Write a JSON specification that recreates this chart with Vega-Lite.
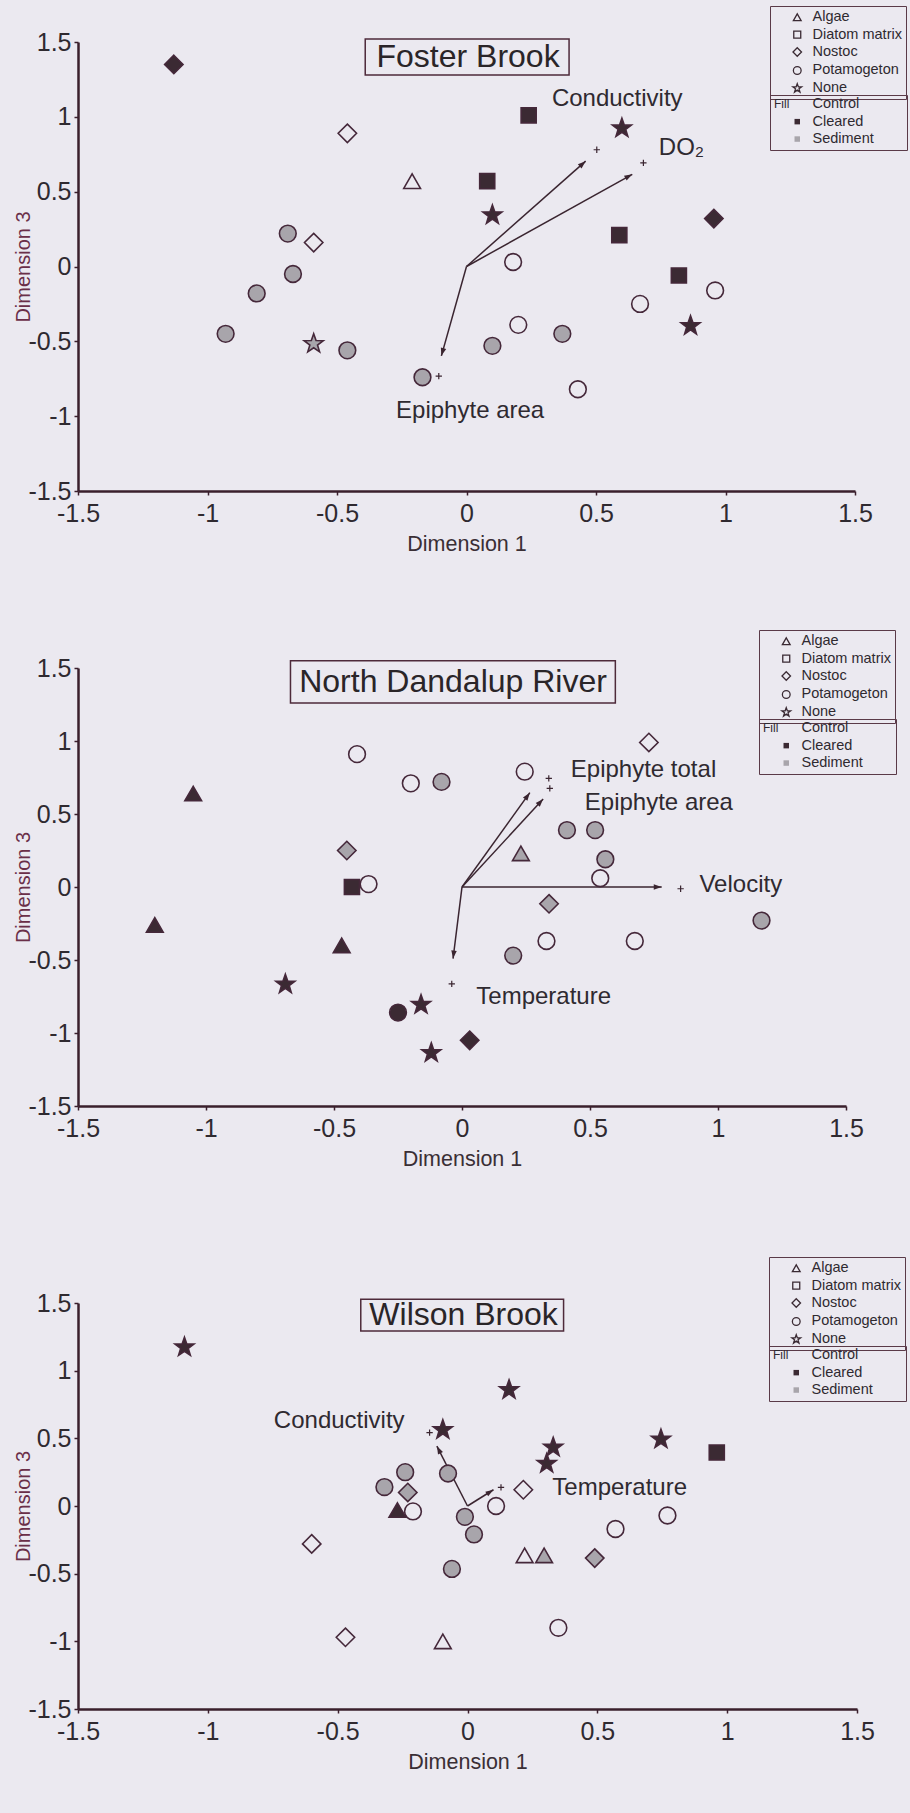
{
  "$schema": "https://vega.github.io/schema/vega-lite/v6.json",
  "background": "#ebe9f0",
  "padding": {"left": 13, "top": 5, "right": 12, "bottom": 45},
  "spacing": 177,
  "bounds": "flush",
  "config": {
    "view": {"stroke": null},
    "font": "Liberation Sans",
    "axis": {"domainColor": "#3a1f2c", "domainWidth": 2.5, "tickColor": "#3a1f2c", "tickWidth": 1.5, "tickSize": 4, "labelFont": "Liberation Sans", "labelFontSize": 25, "labelColor": "#2f2a30", "titleFont": "Liberation Sans", "titleFontWeight": "normal", "grid": false, "labelFlush": false, "labelOverlap": false, "labelExpr": "datum.value == 0 ? '0' : (datum.value < 0 ? '-' : '') + abs(datum.value)"},
    "axisX": {"labelPadding": 6, "titlePadding": 7, "titleFontSize": 21.5, "titleColor": "#3a2f35"},
    "axisY": {"labelPadding": 3, "titleFontSize": 20, "titleColor": "#6a2f48", "titleX": -45},
    "legend": {"labelFont": "Liberation Sans", "labelFontSize": 14.5, "labelColor": "#2f2a30", "titleFont": "Liberation Sans", "titleFontWeight": "normal", "titleFontSize": 12, "titleColor": "#2f2a30", "strokeColor": "#5a3a48", "padding": 4, "rowPadding": 2.4, "symbolSize": 60, "symbolOffset": 16, "labelOffset": 8}
  },
  "datasets": {
    "pts": [
      {"site": "Foster Brook", "x": -1.13, "y": 1.35, "substrate": "Nostoc", "treatment": "Cleared"},
      {"site": "Foster Brook", "x": -0.46, "y": 0.89, "substrate": "Nostoc", "treatment": "Control"},
      {"site": "Foster Brook", "x": -0.21, "y": 0.57, "substrate": "Algae", "treatment": "Control"},
      {"site": "Foster Brook", "x": -0.69, "y": 0.22, "substrate": "Potamogeton", "treatment": "Sediment"},
      {"site": "Foster Brook", "x": -0.59, "y": 0.16, "substrate": "Nostoc", "treatment": "Control"},
      {"site": "Foster Brook", "x": -0.67, "y": -0.05, "substrate": "Potamogeton", "treatment": "Sediment"},
      {"site": "Foster Brook", "x": -0.81, "y": -0.18, "substrate": "Potamogeton", "treatment": "Sediment"},
      {"site": "Foster Brook", "x": -0.93, "y": -0.45, "substrate": "Potamogeton", "treatment": "Sediment"},
      {"site": "Foster Brook", "x": -0.59, "y": -0.51, "substrate": "None", "treatment": "Sediment"},
      {"site": "Foster Brook", "x": -0.46, "y": -0.56, "substrate": "Potamogeton", "treatment": "Sediment"},
      {"site": "Foster Brook", "x": -0.17, "y": -0.74, "substrate": "Potamogeton", "treatment": "Sediment"},
      {"site": "Foster Brook", "x": 0.24, "y": 1.01, "substrate": "Diatom matrix", "treatment": "Cleared"},
      {"site": "Foster Brook", "x": 0.6, "y": 0.93, "substrate": "None", "treatment": "Cleared"},
      {"site": "Foster Brook", "x": 0.08, "y": 0.57, "substrate": "Diatom matrix", "treatment": "Cleared"},
      {"site": "Foster Brook", "x": 0.1, "y": 0.35, "substrate": "None", "treatment": "Cleared"},
      {"site": "Foster Brook", "x": 0.59, "y": 0.21, "substrate": "Diatom matrix", "treatment": "Cleared"},
      {"site": "Foster Brook", "x": 0.955, "y": 0.32, "substrate": "Nostoc", "treatment": "Cleared"},
      {"site": "Foster Brook", "x": 0.18, "y": 0.03, "substrate": "Potamogeton", "treatment": "Control"},
      {"site": "Foster Brook", "x": 0.82, "y": -0.06, "substrate": "Diatom matrix", "treatment": "Cleared"},
      {"site": "Foster Brook", "x": 0.96, "y": -0.16, "substrate": "Potamogeton", "treatment": "Control"},
      {"site": "Foster Brook", "x": 0.67, "y": -0.25, "substrate": "Potamogeton", "treatment": "Control"},
      {"site": "Foster Brook", "x": 0.2, "y": -0.39, "substrate": "Potamogeton", "treatment": "Control"},
      {"site": "Foster Brook", "x": 0.37, "y": -0.45, "substrate": "Potamogeton", "treatment": "Sediment"},
      {"site": "Foster Brook", "x": 0.1, "y": -0.53, "substrate": "Potamogeton", "treatment": "Sediment"},
      {"site": "Foster Brook", "x": 0.865, "y": -0.39, "substrate": "None", "treatment": "Cleared"},
      {"site": "Foster Brook", "x": 0.43, "y": -0.82, "substrate": "Potamogeton", "treatment": "Control"},

      {"site": "North Dandalup River", "x": -0.41, "y": 0.91, "substrate": "Potamogeton", "treatment": "Control"},
      {"site": "North Dandalup River", "x": -0.2, "y": 0.71, "substrate": "Potamogeton", "treatment": "Control"},
      {"site": "North Dandalup River", "x": -0.08, "y": 0.72, "substrate": "Potamogeton", "treatment": "Sediment"},
      {"site": "North Dandalup River", "x": -1.05, "y": 0.64, "substrate": "Algae", "treatment": "Cleared"},
      {"site": "North Dandalup River", "x": -0.45, "y": 0.25, "substrate": "Nostoc", "treatment": "Sediment"},
      {"site": "North Dandalup River", "x": -0.43, "y": 0.0, "substrate": "Diatom matrix", "treatment": "Cleared"},
      {"site": "North Dandalup River", "x": -0.365, "y": 0.02, "substrate": "Potamogeton", "treatment": "Control"},
      {"site": "North Dandalup River", "x": -1.2, "y": -0.26, "substrate": "Algae", "treatment": "Cleared"},
      {"site": "North Dandalup River", "x": -0.47, "y": -0.4, "substrate": "Algae", "treatment": "Cleared"},
      {"site": "North Dandalup River", "x": -0.69, "y": -0.66, "substrate": "None", "treatment": "Cleared"},
      {"site": "North Dandalup River", "x": -0.25, "y": -0.86, "substrate": "Potamogeton", "treatment": "Cleared"},
      {"site": "North Dandalup River", "x": -0.16, "y": -0.8, "substrate": "None", "treatment": "Cleared"},
      {"site": "North Dandalup River", "x": -0.12, "y": -1.13, "substrate": "None", "treatment": "Cleared"},
      {"site": "North Dandalup River", "x": 0.73, "y": 0.99, "substrate": "Nostoc", "treatment": "Control"},
      {"site": "North Dandalup River", "x": 0.245, "y": 0.79, "substrate": "Potamogeton", "treatment": "Control"},
      {"site": "North Dandalup River", "x": 0.41, "y": 0.39, "substrate": "Potamogeton", "treatment": "Sediment"},
      {"site": "North Dandalup River", "x": 0.52, "y": 0.39, "substrate": "Potamogeton", "treatment": "Sediment"},
      {"site": "North Dandalup River", "x": 0.23, "y": 0.23, "substrate": "Algae", "treatment": "Sediment"},
      {"site": "North Dandalup River", "x": 0.56, "y": 0.19, "substrate": "Potamogeton", "treatment": "Sediment"},
      {"site": "North Dandalup River", "x": 0.54, "y": 0.06, "substrate": "Potamogeton", "treatment": "Control"},
      {"site": "North Dandalup River", "x": 0.34, "y": -0.115, "substrate": "Nostoc", "treatment": "Sediment"},
      {"site": "North Dandalup River", "x": 1.17, "y": -0.23, "substrate": "Potamogeton", "treatment": "Sediment"},
      {"site": "North Dandalup River", "x": 0.33, "y": -0.37, "substrate": "Potamogeton", "treatment": "Control"},
      {"site": "North Dandalup River", "x": 0.675, "y": -0.37, "substrate": "Potamogeton", "treatment": "Control"},
      {"site": "North Dandalup River", "x": 0.2, "y": -0.47, "substrate": "Potamogeton", "treatment": "Sediment"},
      {"site": "North Dandalup River", "x": 0.03, "y": -1.05, "substrate": "Nostoc", "treatment": "Cleared"},

      {"site": "Wilson Brook", "x": -1.09, "y": 1.18, "substrate": "None", "treatment": "Cleared"},
      {"site": "Wilson Brook", "x": -0.095, "y": 0.57, "substrate": "None", "treatment": "Cleared"},
      {"site": "Wilson Brook", "x": -0.24, "y": 0.25, "substrate": "Potamogeton", "treatment": "Sediment"},
      {"site": "Wilson Brook", "x": -0.32, "y": 0.14, "substrate": "Potamogeton", "treatment": "Sediment"},
      {"site": "Wilson Brook", "x": -0.23, "y": 0.1, "substrate": "Nostoc", "treatment": "Sediment"},
      {"site": "Wilson Brook", "x": -0.075, "y": 0.24, "substrate": "Potamogeton", "treatment": "Sediment"},
      {"site": "Wilson Brook", "x": -0.27, "y": -0.03, "substrate": "Algae", "treatment": "Cleared"},
      {"site": "Wilson Brook", "x": -0.21, "y": -0.04, "substrate": "Potamogeton", "treatment": "Control"},
      {"site": "Wilson Brook", "x": -0.01, "y": -0.08, "substrate": "Potamogeton", "treatment": "Sediment"},
      {"site": "Wilson Brook", "x": -0.6, "y": -0.28, "substrate": "Nostoc", "treatment": "Control"},
      {"site": "Wilson Brook", "x": -0.06, "y": -0.465, "substrate": "Potamogeton", "treatment": "Sediment"},
      {"site": "Wilson Brook", "x": -0.47, "y": -0.97, "substrate": "Nostoc", "treatment": "Control"},
      {"site": "Wilson Brook", "x": -0.095, "y": -1.0, "substrate": "Algae", "treatment": "Control"},
      {"site": "Wilson Brook", "x": 0.16, "y": 0.865, "substrate": "None", "treatment": "Cleared"},
      {"site": "Wilson Brook", "x": 0.745, "y": 0.5, "substrate": "None", "treatment": "Cleared"},
      {"site": "Wilson Brook", "x": 0.33, "y": 0.44, "substrate": "None", "treatment": "Cleared"},
      {"site": "Wilson Brook", "x": 0.305, "y": 0.32, "substrate": "None", "treatment": "Cleared"},
      {"site": "Wilson Brook", "x": 0.96, "y": 0.395, "substrate": "Diatom matrix", "treatment": "Cleared"},
      {"site": "Wilson Brook", "x": 0.215, "y": 0.12, "substrate": "Nostoc", "treatment": "Control"},
      {"site": "Wilson Brook", "x": 0.11, "y": 0.0, "substrate": "Potamogeton", "treatment": "Control"},
      {"site": "Wilson Brook", "x": 0.025, "y": -0.21, "substrate": "Potamogeton", "treatment": "Sediment"},
      {"site": "Wilson Brook", "x": 0.77, "y": -0.07, "substrate": "Potamogeton", "treatment": "Control"},
      {"site": "Wilson Brook", "x": 0.57, "y": -0.17, "substrate": "Potamogeton", "treatment": "Control"},
      {"site": "Wilson Brook", "x": 0.22, "y": -0.365, "substrate": "Algae", "treatment": "Control"},
      {"site": "Wilson Brook", "x": 0.295, "y": -0.365, "substrate": "Algae", "treatment": "Sediment"},
      {"site": "Wilson Brook", "x": 0.49, "y": -0.385, "substrate": "Nostoc", "treatment": "Sediment"},
      {"site": "Wilson Brook", "x": 0.35, "y": -0.9, "substrate": "Potamogeton", "treatment": "Control"}
    ],
    "vec": [
      {"site": "Foster Brook", "variable": "Conductivity", "ax": 0.46, "ay": 0.704, "px": 0.503, "py": 0.78, "lx": 0.582, "ly": 1.122},
      {"site": "Foster Brook", "variable": "DO₂", "ax": 0.64, "ay": 0.616, "px": 0.683, "py": 0.692, "lx": 0.83, "ly": 0.795},
      {"site": "Foster Brook", "variable": "Epiphyte area", "ax": -0.097, "ay": -0.597, "px": -0.107, "py": -0.733, "lx": 0.014, "ly": -0.967},
      {"site": "North Dandalup River", "variable": "Epiphyte total", "ax": 0.265, "ay": 0.646, "px": 0.339, "py": 0.744, "lx": 0.709, "ly": 0.803},
      {"site": "North Dandalup River", "variable": "Epiphyte area", "ax": 0.317, "ay": 0.602, "px": 0.343, "py": 0.676, "lx": 0.769, "ly": 0.577},
      {"site": "North Dandalup River", "variable": "Velocity", "ax": 0.78, "ay": 0.0, "px": 0.854, "py": -0.012, "lx": 1.089, "ly": 0.012},
      {"site": "North Dandalup River", "variable": "Temperature", "ax": -0.035, "ay": -0.49, "px": -0.04, "py": -0.663, "lx": 0.319, "ly": -0.754},
      {"site": "Wilson Brook", "variable": "Conductivity", "ax": -0.118, "ay": 0.443, "px": -0.146, "py": 0.542, "lx": -0.494, "ly": 0.631},
      {"site": "Wilson Brook", "variable": "Temperature", "ax": 0.1, "ay": 0.12, "px": 0.129, "py": 0.137, "lx": 0.586, "ly": 0.13}
    ],
    "titles": [
      {"site": "Foster Brook", "x1": -0.391, "x2": 0.396, "y1": 1.28, "y2": 1.52, "tx": 0.006, "ty": 1.4},
      {"site": "North Dandalup River", "x1": -0.67, "x2": 0.599, "y1": 1.26, "y2": 1.55, "tx": -0.035, "ty": 1.405},
      {"site": "Wilson Brook", "x1": -0.411, "x2": 0.37, "y1": 1.294, "y2": 1.528, "tx": -0.015, "ty": 1.41}
    ]
  },
  "resolve": {
    "scale": {"x": "independent", "y": "independent", "shape": "independent", "fill": "independent"},
    "axis": {"x": "independent", "y": "independent"},
    "legend": {"shape": "independent", "fill": "independent"}
  },
  "vconcat": [
    {
      "width": 777, "height": 449,
      "layer": [
        {"data": {"name": "titles"}, "transform": [{"filter": "datum.site === 'Foster Brook'"}],
         "mark": {"type": "rect", "fill": "transparent", "stroke": "#4e2a3a", "strokeWidth": 1.5, "clip": false},
         "encoding": {
           "x": {"field": "x1", "type": "quantitative", "scale": {"domain": [-1.5, 1.5], "nice": false, "zero": false}, "axis": {"title": "Dimension 1", "values": [-1.5, -1, -0.5, 0, 0.5, 1, 1.5]}},
           "x2": {"field": "x2"},
           "y": {"field": "y1", "type": "quantitative", "scale": {"domain": [-1.5, 1.5], "nice": false, "zero": false}, "axis": {"title": "Dimension 3", "values": [-1.5, -1, -0.5, 0, 0.5, 1, 1.5]}},
           "y2": {"field": "y2"}
         }},
        {"data": {"name": "titles"}, "transform": [{"filter": "datum.site === 'Foster Brook'"}],
         "mark": {"type": "text", "fontSize": 32, "color": "#2a2528", "align": "center", "baseline": "middle"},
         "encoding": {
           "x": {"field": "tx", "type": "quantitative", "scale": {"domain": [-1.5, 1.5], "nice": false, "zero": false}, "axis": {"title": "Dimension 1", "values": [-1.5, -1, -0.5, 0, 0.5, 1, 1.5]}},
           "y": {"field": "ty", "type": "quantitative", "scale": {"domain": [-1.5, 1.5], "nice": false, "zero": false}, "axis": {"title": "Dimension 3", "values": [-1.5, -1, -0.5, 0, 0.5, 1, 1.5]}},
           "text": {"field": "site"}
         }},
        {"data": {"name": "vec"}, "transform": [{"filter": "datum.site === 'Foster Brook'"}],
         "mark": {"type": "rule", "color": "#3a2530", "strokeWidth": 1.5},
         "encoding": {
           "x": {"field": "ax", "type": "quantitative", "scale": {"domain": [-1.5, 1.5], "nice": false, "zero": false}, "axis": {"title": "Dimension 1", "values": [-1.5, -1, -0.5, 0, 0.5, 1, 1.5]}},
           "y": {"field": "ay", "type": "quantitative", "scale": {"domain": [-1.5, 1.5], "nice": false, "zero": false}, "axis": {"title": "Dimension 3", "values": [-1.5, -1, -0.5, 0, 0.5, 1, 1.5]}},
           "x2": {"datum": 0},
           "y2": {"datum": 0}
         }},
        {"data": {"name": "vec"}, "transform": [{"filter": "datum.site === 'Foster Brook'"}, {"calculate": "atan2(datum.ax * 259, datum.ay * 149.7) * 180 / PI", "as": "heading"}],
         "mark": {"type": "point", "filled": true, "color": "#3a2530", "shape": "M0,0L-0.45,1.3L0.45,1.3Z", "size": 150, "opacity": 1},
         "encoding": {
           "x": {"field": "ax", "type": "quantitative", "scale": {"domain": [-1.5, 1.5], "nice": false, "zero": false}, "axis": {"title": "Dimension 1", "values": [-1.5, -1, -0.5, 0, 0.5, 1, 1.5]}},
           "y": {"field": "ay", "type": "quantitative", "scale": {"domain": [-1.5, 1.5], "nice": false, "zero": false}, "axis": {"title": "Dimension 3", "values": [-1.5, -1, -0.5, 0, 0.5, 1, 1.5]}},
           "angle": {"field": "heading", "type": "quantitative", "scale": null}
         }},
        {"data": {"name": "vec"}, "transform": [{"filter": "datum.site === 'Foster Brook'"}],
         "mark": {"type": "point", "filled": false, "color": "#3a2530", "strokeWidth": 1.2, "shape": "M-1,0L1,0M0,-1L0,1", "size": 40, "opacity": 1},
         "encoding": {
           "x": {"field": "px", "type": "quantitative", "scale": {"domain": [-1.5, 1.5], "nice": false, "zero": false}, "axis": {"title": "Dimension 1", "values": [-1.5, -1, -0.5, 0, 0.5, 1, 1.5]}},
           "y": {"field": "py", "type": "quantitative", "scale": {"domain": [-1.5, 1.5], "nice": false, "zero": false}, "axis": {"title": "Dimension 3", "values": [-1.5, -1, -0.5, 0, 0.5, 1, 1.5]}}
         }},
        {"data": {"name": "vec"}, "transform": [{"filter": "datum.site === 'Foster Brook'"}],
         "mark": {"type": "text", "fontSize": 24, "color": "#2f2a30", "align": "center", "baseline": "middle"},
         "encoding": {
           "x": {"field": "lx", "type": "quantitative", "scale": {"domain": [-1.5, 1.5], "nice": false, "zero": false}, "axis": {"title": "Dimension 1", "values": [-1.5, -1, -0.5, 0, 0.5, 1, 1.5]}},
           "y": {"field": "ly", "type": "quantitative", "scale": {"domain": [-1.5, 1.5], "nice": false, "zero": false}, "axis": {"title": "Dimension 3", "values": [-1.5, -1, -0.5, 0, 0.5, 1, 1.5]}},
           "text": {"field": "variable"}
         }},
        {"data": {"name": "pts"}, "transform": [{"filter": "datum.site === 'Foster Brook'"}],
         "mark": {"type": "point", "filled": false, "stroke": "#45283a", "strokeWidth": 1.6, "size": 280, "opacity": 1},
         "encoding": {
           "x": {"field": "x", "type": "quantitative", "scale": {"domain": [-1.5, 1.5], "nice": false, "zero": false}, "axis": {"title": "Dimension 1", "values": [-1.5, -1, -0.5, 0, 0.5, 1, 1.5]}},
           "y": {"field": "y", "type": "quantitative", "scale": {"domain": [-1.5, 1.5], "nice": false, "zero": false}, "axis": {"title": "Dimension 3", "values": [-1.5, -1, -0.5, 0, 0.5, 1, 1.5]}},
           "shape": {"field": "substrate", "type": "nominal",
                     "scale": {"domain": ["Algae", "Diatom matrix", "Nostoc", "Potamogeton", "None"], "range": ["triangle-up", "M-0.9,-0.9L0.9,-0.9L0.9,0.9L-0.9,0.9Z", "M0,-1.1L1.1,0L0,1.1L-1.1,0Z", "circle", "M0,-1.09L0.282,-0.278L1.141,-0.261L0.456,0.258L0.706,1.081L0,0.59L-0.706,1.081L-0.456,0.258L-1.141,-0.261L-0.282,-0.278Z"]},
                     "legend": {"title": null, "orient": "none", "legendX": 692, "legendY": -36, "symbolFillColor": "transparent", "symbolStrokeColor": "#3a2a33", "symbolStrokeWidth": 1.3}},
           "fill": {"field": "treatment", "type": "nominal",
                    "scale": {"domain": ["Control", "Cleared", "Sediment"], "range": ["transparent", "#3b2a33", "#a8a5ab"]},
                    "legend": {"title": "Fill", "orient": "none", "legendX": 692, "legendY": 53, "titleOrient": "top", "titleAnchor": "start", "titlePadding": -14, "symbolType": "square", "symbolSize": 30, "symbolStrokeColor": "transparent", "symbolStrokeWidth": 0,
                               "labelExpr": "datum.label + '\u2003\u2003\u200b'"}}
         }}
      ]
    },
    {
      "spacing": 197,
      "bounds": "flush",
      "resolve": {
        "scale": {"x": "independent", "y": "independent", "shape": "independent", "fill": "independent"},
        "axis": {"x": "independent", "y": "independent"},
        "legend": {"shape": "independent", "fill": "independent"}
      },
      "vconcat": [
        {
          "width": 768, "height": 438,
          "layer": [
            {"data": {"name": "titles"}, "transform": [{"filter": "datum.site === 'North Dandalup River'"}],
             "mark": {"type": "rect", "fill": "transparent", "stroke": "#4e2a3a", "strokeWidth": 1.5, "clip": false},
             "encoding": {
               "x": {"field": "x1", "type": "quantitative", "scale": {"domain": [-1.5, 1.5], "nice": false, "zero": false}, "axis": {"title": "Dimension 1", "values": [-1.5, -1, -0.5, 0, 0.5, 1, 1.5]}},
               "x2": {"field": "x2"},
               "y": {"field": "y1", "type": "quantitative", "scale": {"domain": [-1.5, 1.5], "nice": false, "zero": false}, "axis": {"title": "Dimension 3", "values": [-1.5, -1, -0.5, 0, 0.5, 1, 1.5]}},
               "y2": {"field": "y2"}
             }},
            {"data": {"name": "titles"}, "transform": [{"filter": "datum.site === 'North Dandalup River'"}],
             "mark": {"type": "text", "fontSize": 32, "color": "#2a2528", "align": "center", "baseline": "middle"},
             "encoding": {
               "x": {"field": "tx", "type": "quantitative", "scale": {"domain": [-1.5, 1.5], "nice": false, "zero": false}, "axis": {"title": "Dimension 1", "values": [-1.5, -1, -0.5, 0, 0.5, 1, 1.5]}},
               "y": {"field": "ty", "type": "quantitative", "scale": {"domain": [-1.5, 1.5], "nice": false, "zero": false}, "axis": {"title": "Dimension 3", "values": [-1.5, -1, -0.5, 0, 0.5, 1, 1.5]}},
               "text": {"field": "site"}
             }},
            {"data": {"name": "vec"}, "transform": [{"filter": "datum.site === 'North Dandalup River'"}],
             "mark": {"type": "rule", "color": "#3a2530", "strokeWidth": 1.5},
             "encoding": {
               "x": {"field": "ax", "type": "quantitative", "scale": {"domain": [-1.5, 1.5], "nice": false, "zero": false}, "axis": {"title": "Dimension 1", "values": [-1.5, -1, -0.5, 0, 0.5, 1, 1.5]}},
               "y": {"field": "ay", "type": "quantitative", "scale": {"domain": [-1.5, 1.5], "nice": false, "zero": false}, "axis": {"title": "Dimension 3", "values": [-1.5, -1, -0.5, 0, 0.5, 1, 1.5]}},
               "x2": {"datum": 0},
               "y2": {"datum": 0}
             }},
            {"data": {"name": "vec"}, "transform": [{"filter": "datum.site === 'North Dandalup River'"}, {"calculate": "atan2(datum.ax * 256, datum.ay * 146) * 180 / PI", "as": "heading"}],
             "mark": {"type": "point", "filled": true, "color": "#3a2530", "shape": "M0,0L-0.45,1.3L0.45,1.3Z", "size": 150, "opacity": 1},
             "encoding": {
               "x": {"field": "ax", "type": "quantitative", "scale": {"domain": [-1.5, 1.5], "nice": false, "zero": false}, "axis": {"title": "Dimension 1", "values": [-1.5, -1, -0.5, 0, 0.5, 1, 1.5]}},
               "y": {"field": "ay", "type": "quantitative", "scale": {"domain": [-1.5, 1.5], "nice": false, "zero": false}, "axis": {"title": "Dimension 3", "values": [-1.5, -1, -0.5, 0, 0.5, 1, 1.5]}},
               "angle": {"field": "heading", "type": "quantitative", "scale": null}
             }},
            {"data": {"name": "vec"}, "transform": [{"filter": "datum.site === 'North Dandalup River'"}],
             "mark": {"type": "point", "filled": false, "color": "#3a2530", "strokeWidth": 1.2, "shape": "M-1,0L1,0M0,-1L0,1", "size": 40, "opacity": 1},
             "encoding": {
               "x": {"field": "px", "type": "quantitative", "scale": {"domain": [-1.5, 1.5], "nice": false, "zero": false}, "axis": {"title": "Dimension 1", "values": [-1.5, -1, -0.5, 0, 0.5, 1, 1.5]}},
               "y": {"field": "py", "type": "quantitative", "scale": {"domain": [-1.5, 1.5], "nice": false, "zero": false}, "axis": {"title": "Dimension 3", "values": [-1.5, -1, -0.5, 0, 0.5, 1, 1.5]}}
             }},
            {"data": {"name": "vec"}, "transform": [{"filter": "datum.site === 'North Dandalup River'"}],
             "mark": {"type": "text", "fontSize": 24, "color": "#2f2a30", "align": "center", "baseline": "middle"},
             "encoding": {
               "x": {"field": "lx", "type": "quantitative", "scale": {"domain": [-1.5, 1.5], "nice": false, "zero": false}, "axis": {"title": "Dimension 1", "values": [-1.5, -1, -0.5, 0, 0.5, 1, 1.5]}},
               "y": {"field": "ly", "type": "quantitative", "scale": {"domain": [-1.5, 1.5], "nice": false, "zero": false}, "axis": {"title": "Dimension 3", "values": [-1.5, -1, -0.5, 0, 0.5, 1, 1.5]}},
               "text": {"field": "variable"}
             }},
            {"data": {"name": "pts"}, "transform": [{"filter": "datum.site === 'North Dandalup River'"}],
             "mark": {"type": "point", "filled": false, "stroke": "#45283a", "strokeWidth": 1.6, "size": 280, "opacity": 1},
             "encoding": {
               "x": {"field": "x", "type": "quantitative", "scale": {"domain": [-1.5, 1.5], "nice": false, "zero": false}, "axis": {"title": "Dimension 1", "values": [-1.5, -1, -0.5, 0, 0.5, 1, 1.5]}},
               "y": {"field": "y", "type": "quantitative", "scale": {"domain": [-1.5, 1.5], "nice": false, "zero": false}, "axis": {"title": "Dimension 3", "values": [-1.5, -1, -0.5, 0, 0.5, 1, 1.5]}},
               "shape": {"field": "substrate", "type": "nominal",
                         "scale": {"domain": ["Algae", "Diatom matrix", "Nostoc", "Potamogeton", "None"], "range": ["triangle-up", "M-0.9,-0.9L0.9,-0.9L0.9,0.9L-0.9,0.9Z", "M0,-1.1L1.1,0L0,1.1L-1.1,0Z", "circle", "M0,-1.09L0.282,-0.278L1.141,-0.261L0.456,0.258L0.706,1.081L0,0.59L-0.706,1.081L-0.456,0.258L-1.141,-0.261L-0.282,-0.278Z"]},
                         "legend": {"title": null, "orient": "none", "legendX": 681, "legendY": -38, "symbolFillColor": "transparent", "symbolStrokeColor": "#3a2a33", "symbolStrokeWidth": 1.3}},
               "fill": {"field": "treatment", "type": "nominal",
                        "scale": {"domain": ["Control", "Cleared", "Sediment"], "range": ["transparent", "#3b2a33", "#a8a5ab"]},
                        "legend": {"title": "Fill", "orient": "none", "legendX": 681, "legendY": 51, "titleOrient": "top", "titleAnchor": "start", "titlePadding": -14, "symbolType": "square", "symbolSize": 30, "symbolStrokeColor": "transparent", "symbolStrokeWidth": 0,
                                   "labelExpr": "datum.label + '\u2003\u2003\u200b'"}}
             }}
          ]
        },
        {
          "width": 779, "height": 406,
          "layer": [
            {"data": {"name": "titles"}, "transform": [{"filter": "datum.site === 'Wilson Brook'"}],
             "mark": {"type": "rect", "fill": "transparent", "stroke": "#4e2a3a", "strokeWidth": 1.5, "clip": false},
             "encoding": {
               "x": {"field": "x1", "type": "quantitative", "scale": {"domain": [-1.5, 1.5], "nice": false, "zero": false}, "axis": {"title": "Dimension 1", "values": [-1.5, -1, -0.5, 0, 0.5, 1, 1.5]}},
               "x2": {"field": "x2"},
               "y": {"field": "y1", "type": "quantitative", "scale": {"domain": [-1.5, 1.5], "nice": false, "zero": false}, "axis": {"title": "Dimension 3", "values": [-1.5, -1, -0.5, 0, 0.5, 1, 1.5]}},
               "y2": {"field": "y2"}
             }},
            {"data": {"name": "titles"}, "transform": [{"filter": "datum.site === 'Wilson Brook'"}],
             "mark": {"type": "text", "fontSize": 32, "color": "#2a2528", "align": "center", "baseline": "middle"},
             "encoding": {
               "x": {"field": "tx", "type": "quantitative", "scale": {"domain": [-1.5, 1.5], "nice": false, "zero": false}, "axis": {"title": "Dimension 1", "values": [-1.5, -1, -0.5, 0, 0.5, 1, 1.5]}},
               "y": {"field": "ty", "type": "quantitative", "scale": {"domain": [-1.5, 1.5], "nice": false, "zero": false}, "axis": {"title": "Dimension 3", "values": [-1.5, -1, -0.5, 0, 0.5, 1, 1.5]}},
               "text": {"field": "site"}
             }},
            {"data": {"name": "vec"}, "transform": [{"filter": "datum.site === 'Wilson Brook'"}],
             "mark": {"type": "rule", "color": "#3a2530", "strokeWidth": 1.5},
             "encoding": {
               "x": {"field": "ax", "type": "quantitative", "scale": {"domain": [-1.5, 1.5], "nice": false, "zero": false}, "axis": {"title": "Dimension 1", "values": [-1.5, -1, -0.5, 0, 0.5, 1, 1.5]}},
               "y": {"field": "ay", "type": "quantitative", "scale": {"domain": [-1.5, 1.5], "nice": false, "zero": false}, "axis": {"title": "Dimension 3", "values": [-1.5, -1, -0.5, 0, 0.5, 1, 1.5]}},
               "x2": {"datum": 0},
               "y2": {"datum": 0}
             }},
            {"data": {"name": "vec"}, "transform": [{"filter": "datum.site === 'Wilson Brook'"}, {"calculate": "atan2(datum.ax * 259.7, datum.ay * 135.3) * 180 / PI", "as": "heading"}],
             "mark": {"type": "point", "filled": true, "color": "#3a2530", "shape": "M0,0L-0.45,1.3L0.45,1.3Z", "size": 150, "opacity": 1},
             "encoding": {
               "x": {"field": "ax", "type": "quantitative", "scale": {"domain": [-1.5, 1.5], "nice": false, "zero": false}, "axis": {"title": "Dimension 1", "values": [-1.5, -1, -0.5, 0, 0.5, 1, 1.5]}},
               "y": {"field": "ay", "type": "quantitative", "scale": {"domain": [-1.5, 1.5], "nice": false, "zero": false}, "axis": {"title": "Dimension 3", "values": [-1.5, -1, -0.5, 0, 0.5, 1, 1.5]}},
               "angle": {"field": "heading", "type": "quantitative", "scale": null}
             }},
            {"data": {"name": "vec"}, "transform": [{"filter": "datum.site === 'Wilson Brook'"}],
             "mark": {"type": "point", "filled": false, "color": "#3a2530", "strokeWidth": 1.2, "shape": "M-1,0L1,0M0,-1L0,1", "size": 40, "opacity": 1},
             "encoding": {
               "x": {"field": "px", "type": "quantitative", "scale": {"domain": [-1.5, 1.5], "nice": false, "zero": false}, "axis": {"title": "Dimension 1", "values": [-1.5, -1, -0.5, 0, 0.5, 1, 1.5]}},
               "y": {"field": "py", "type": "quantitative", "scale": {"domain": [-1.5, 1.5], "nice": false, "zero": false}, "axis": {"title": "Dimension 3", "values": [-1.5, -1, -0.5, 0, 0.5, 1, 1.5]}}
             }},
            {"data": {"name": "vec"}, "transform": [{"filter": "datum.site === 'Wilson Brook'"}],
             "mark": {"type": "text", "fontSize": 24, "color": "#2f2a30", "align": "center", "baseline": "middle"},
             "encoding": {
               "x": {"field": "lx", "type": "quantitative", "scale": {"domain": [-1.5, 1.5], "nice": false, "zero": false}, "axis": {"title": "Dimension 1", "values": [-1.5, -1, -0.5, 0, 0.5, 1, 1.5]}},
               "y": {"field": "ly", "type": "quantitative", "scale": {"domain": [-1.5, 1.5], "nice": false, "zero": false}, "axis": {"title": "Dimension 3", "values": [-1.5, -1, -0.5, 0, 0.5, 1, 1.5]}},
               "text": {"field": "variable"}
             }},
            {"data": {"name": "pts"}, "transform": [{"filter": "datum.site === 'Wilson Brook'"}],
             "mark": {"type": "point", "filled": false, "stroke": "#45283a", "strokeWidth": 1.6, "size": 280, "opacity": 1},
             "encoding": {
               "x": {"field": "x", "type": "quantitative", "scale": {"domain": [-1.5, 1.5], "nice": false, "zero": false}, "axis": {"title": "Dimension 1", "values": [-1.5, -1, -0.5, 0, 0.5, 1, 1.5]}},
               "y": {"field": "y", "type": "quantitative", "scale": {"domain": [-1.5, 1.5], "nice": false, "zero": false}, "axis": {"title": "Dimension 3", "values": [-1.5, -1, -0.5, 0, 0.5, 1, 1.5]}},
               "shape": {"field": "substrate", "type": "nominal",
                         "scale": {"domain": ["Algae", "Diatom matrix", "Nostoc", "Potamogeton", "None"], "range": ["triangle-up", "M-0.9,-0.9L0.9,-0.9L0.9,0.9L-0.9,0.9Z", "M0,-1.1L1.1,0L0,1.1L-1.1,0Z", "circle", "M0,-1.09L0.282,-0.278L1.141,-0.261L0.456,0.258L0.706,1.081L0,0.59L-0.706,1.081L-0.456,0.258L-1.141,-0.261L-0.282,-0.278Z"]},
                         "legend": {"title": null, "orient": "none", "legendX": 691, "legendY": -46, "symbolFillColor": "transparent", "symbolStrokeColor": "#3a2a33", "symbolStrokeWidth": 1.3}},
               "fill": {"field": "treatment", "type": "nominal",
                        "scale": {"domain": ["Control", "Cleared", "Sediment"], "range": ["transparent", "#3b2a33", "#a8a5ab"]},
                        "legend": {"title": "Fill", "orient": "none", "legendX": 691, "legendY": 43, "titleOrient": "top", "titleAnchor": "start", "titlePadding": -14, "symbolType": "square", "symbolSize": 30, "symbolStrokeColor": "transparent", "symbolStrokeWidth": 0,
                                   "labelExpr": "datum.label + '\u2003\u2003\u200b'"}}
             }}
          ]
        }
      ]
    }
  ]
}
